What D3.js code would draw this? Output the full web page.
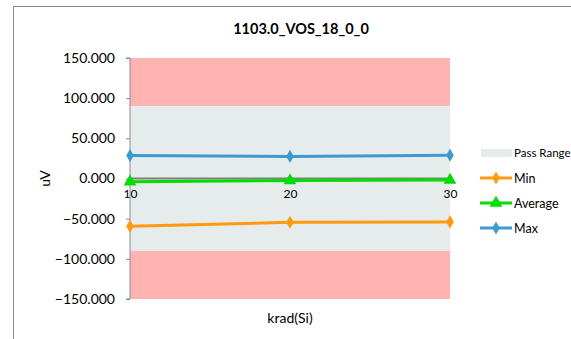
<!DOCTYPE html>
<html><head><meta charset="utf-8">
<script src="https://cdn.jsdelivr.net/npm/d3@7"></script>
<style>body{margin:0;background:#fff}svg{display:block;font-family:"Lato","Open Sans",sans-serif}</style>
</head><body>
<svg id="c" width="571" height="339"></svg>
<script>
const categories = [10, 20, 30];
const minVals = [-59.5, -54.5, -54.0];
const avgVals = [-4.0, -2.5, -2.0];
const maxVals = [28.5, 27.5, 29.0];
const passRange = [-90, 90];
const yTicks = [150, 100, 50, 0, -50, -100, -150];
const title = "1103.0_VOS_18_0_0";

const svg = d3.select("#c");
// outer frame
svg.append("path").attr("d","M13.5,339 V6.5 H571").attr("fill","none").attr("stroke","#8c8c8c").attr("stroke-width",1);

const x = d3.scaleLinear().domain([10,30]).range([130,450]);
const y = d3.scaleLinear().domain([-150,150]).range([299,58]);

// bands
svg.append("rect").attr("x",x(10)).attr("width",x(30)-x(10)).attr("y",y(150)).attr("height",y(passRange[1])-y(150)).attr("fill","#ffb3b3");
svg.append("rect").attr("x",x(10)).attr("width",x(30)-x(10)).attr("y",y(passRange[1])).attr("height",y(passRange[0])-y(passRange[1])).attr("fill","#e6ecec");
svg.append("rect").attr("x",x(10)).attr("width",x(30)-x(10)).attr("y",y(passRange[0])).attr("height",y(-150)-y(passRange[0])).attr("fill","#ffb3b3");

// y axis
const ya = svg.append("g").attr("transform",`translate(${x(10)},0)`)
  .call(d3.axisLeft(y).tickValues(yTicks).tickFormat(d3.format(".3f")).tickSize(4).tickPadding(11));
ya.select(".domain").attr("stroke","#8c8c8c").attr("d",`M-4,${y(150)}H0V${y(-150)}H-4`);
ya.selectAll(".tick line").attr("stroke","#8c8c8c");
ya.selectAll("text").attr("font-size",14).attr("fill","#000").attr("font-family","Lato, 'Open Sans', sans-serif");

// zero line / x axis
svg.append("line").attr("x1",x(10)).attr("x2",x(30)).attr("y1",y(0)).attr("y2",y(0)).attr("stroke","#7f7f7f").attr("stroke-width",2);
const xa = svg.append("g").attr("transform",`translate(0,${y(0)})`)
  .call(d3.axisBottom(x).tickValues(categories).tickSize(0).tickPadding(11));
xa.select(".domain").remove();
xa.selectAll("text").attr("font-size",12).attr("fill","#000").attr("font-family","Lato, 'Open Sans', sans-serif");

const series = [
  {name:"Min", vals:minVals, color:"#ff9a0e", marker:"diamond"},
  {name:"Average", vals:avgVals, color:"#00dd00", marker:"triangle"},
  {name:"Max", vals:maxVals, color:"#3d9ad1", marker:"diamond"}
];
const line = d3.line().x((d,i)=>x(categories[i])).y(d=>y(d));
const sym = {diamond:d3.symbol().type(d3.symbolDiamond).size(50), triangle:d3.symbol().type(d3.symbolTriangle).size(70)};
series.forEach(s=>{
  svg.append("path").attr("d",line(s.vals)).attr("fill","none").attr("stroke",s.color).attr("stroke-width",3);
  svg.selectAll(null).data(s.vals).enter().append("path")
    .attr("d",sym[s.marker]).attr("transform",(d,i)=>`translate(${x(categories[i])},${y(d)})`).attr("fill",s.color);
});

// titles
svg.append("text").attr("x",301).attr("y",34).attr("text-anchor","middle").attr("font-weight","bold").attr("font-size",14.5).text(title);
svg.append("text").attr("transform",`translate(50,${y(0)}) rotate(-90)`).attr("text-anchor","middle").attr("font-size",14).text("uV");
svg.append("text").attr("x",290).attr("y",323).attr("text-anchor","middle").attr("font-size",14).text("krad(Si)");

// legend
const lg = svg.append("g").attr("font-size",12.5);
lg.append("rect").attr("x",481).attr("y",149).attr("width",31).attr("height",8).attr("fill","#e6ecec");
lg.append("text").attr("x",514).attr("y",157).attr("font-size",11.5).text("Pass Range");
series.forEach((s,i)=>{
  const yy = 178 + i*25;
  lg.append("line").attr("x1",480).attr("x2",512).attr("y1",yy).attr("y2",yy).attr("stroke",s.color).attr("stroke-width",3);
  lg.append("path").attr("d",sym[s.marker]).attr("transform",`translate(496,${yy})`).attr("fill",s.color);
  lg.append("text").attr("x",514).attr("y",yy+4.5).text(s.name);
});
</script>
</body></html>
